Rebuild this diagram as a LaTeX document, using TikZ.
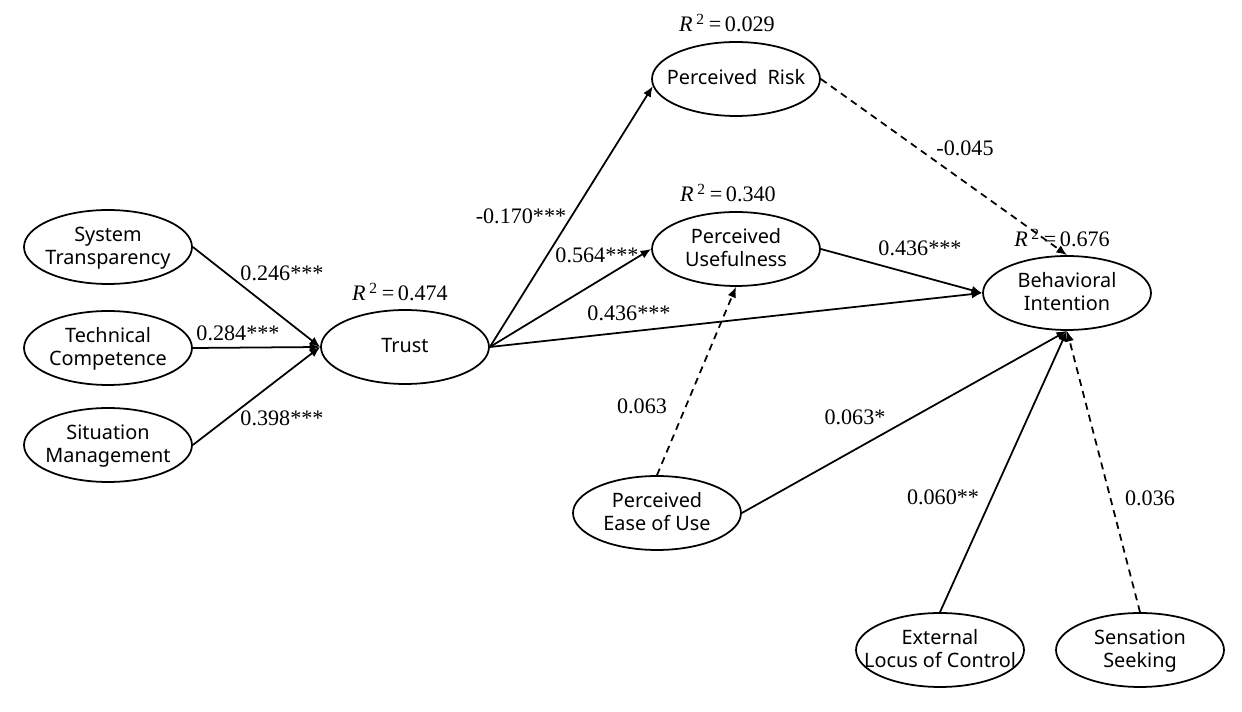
\documentclass[tikz,border=0pt]{standalone}
\usepackage{fontspec}
\setmainfont{Liberation Serif}
\newfontfamily\latfont{Noto Sans}
\usetikzlibrary{arrows.meta,shapes.geometric}
\newcommand{\ltxt}[1]{\makebox[0pt]{\raisebox{-0.3em}[0pt][0pt]{\begin{tabular}{@{}c@{}}#1\end{tabular}}}}
\newcommand{\rsq}[1]{\textit{R}\,\textsuperscript{2}\,=\,#1}
\tikzset{
  latent/.style={ellipse, draw, line width=1pt, minimum width=3.36cm, minimum height=1.48cm, inner sep=0pt, font=\latfont\fontsize{11.3}{13.3}\selectfont},
  sig/.style={-{Latex[length=6pt,width=5pt]}, line width=1pt},
  nsig/.style={sig, dash pattern=on 4pt off 3pt},
  coef/.style={font=\fontsize{12.6}{14}\selectfont, inner sep=1pt}
}

\begin{document}
\begin{tikzpicture}[x=0.02cm,y=-0.02cm]
  \useasboundingbox (0,0) rectangle (1242,712);
  % constructs
  \node[latent] (st) at (108,247) {\ltxt{System\\Transparency}};
  \node[latent] (tc) at (108,348) {\ltxt{Technical\\Competence}};
  \node[latent] (sm) at (108,445) {\ltxt{Situation\\Management}};
  \node[latent] (trust) at (405,347) {\ltxt{Trust}};
  \node[latent] (pr) at (736,79) {\ltxt{Perceived\ \ Risk}};
  \node[latent] (pu) at (736,249) {\ltxt{Perceived\\Usefulness}};
  \node[latent] (bi) at (1067,293) {\ltxt{Behavioral\\Intention}};
  \node[latent] (peou) at (657,513) {\ltxt{Perceived\\Ease of Use}};
  \node[latent] (elc) at (940,650) {\ltxt{External\\Locus of Control}};
  \node[latent] (ss) at (1140,650) {\ltxt{Sensation\\Seeking}};
  % explained variance
  \node[coef] (r2trust) at (400,292) {\rsq{0.474}};
  \node[coef] (r2pr) at (727,23) {\rsq{0.029}};
  \node[coef] (r2pu) at (728,193) {\rsq{0.340}};
  \node[coef] (r2bi) at (1062,238) {\rsq{0.676}};
  % paths
  \draw[sig] (st.east) -- (trust.west);
  \draw[sig] (tc.east) -- (trust.west);
  \draw[sig] (sm.east) -- (trust.west);
  \draw[sig] (trust.east) -- (pr.185);
  \draw[sig] (trust.east) -- (pu.west);
  \draw[sig] (trust.east) -- (bi.west);
  \draw[sig] (pu.east) -- (bi.west);
  \draw[nsig] (pr.east) -- (bi.north);
  \draw[nsig] (peou.north) -- (pu.south);
  \draw[sig] (peou.east) -- (bi.south);
  \draw[sig] (elc.north) -- (bi.south);
  \draw[nsig] (ss.north) -- (bi.south);
  % coefficients
  \node[coef] (c1) at (282,273) {0.246***};
  \node[coef] (c2) at (238,333) {0.284***};
  \node[coef] (c3) at (282,418) {0.398***};
  \node[coef] (c4) at (521,216) {-0.170***};
  \node[coef] (c5) at (597,255) {0.564***};
  \node[coef] (c6) at (629,313) {0.436***};
  \node[coef] (c7) at (965,148) {-0.045};
  \node[coef] (c8) at (920,248) {0.436***};
  \node[coef] (c9) at (642,406) {0.063};
  \node[coef] (c10) at (855,417) {0.063*};
  \node[coef] (c11) at (943,497) {0.060**};
  \node[coef] (c12) at (1150,498) {0.036};
\end{tikzpicture}
\end{document}
